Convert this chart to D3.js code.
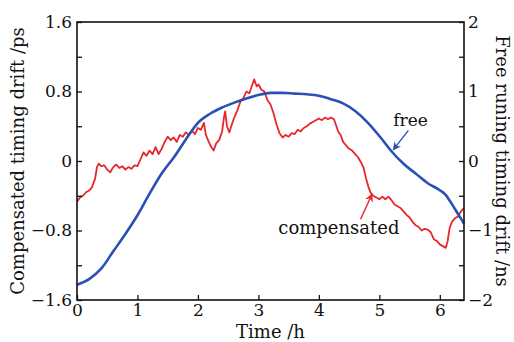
<!DOCTYPE html>
<html>
<head>
<meta charset="utf-8">
<script src="https://cdn.jsdelivr.net/npm/d3@7"></script>
<style>
  body { margin: 0; background: #fff; }
  svg text { font-family: "DejaVu Serif", "Liberation Serif", serif; fill: #111; }
</style>
</head>
<body>
<svg id="canvas" width="514" height="342"></svg>
<script>
// compensated timing drift (ps), left axis
const compT = [0, 0.05, 0.1, 0.15, 0.2, 0.25, 0.3, 0.33, 0.36, 0.4, 0.45, 0.5, 0.55, 0.6, 0.65, 0.7, 0.75, 0.8, 0.85, 0.9, 0.95,
  1.0, 1.05, 1.1, 1.15, 1.2, 1.25, 1.3, 1.35, 1.4, 1.45, 1.5, 1.55, 1.6, 1.65, 1.7, 1.75, 1.8, 1.85, 1.9, 1.95,
  2.0, 2.05, 2.1, 2.13, 2.18, 2.22, 2.26, 2.3, 2.35, 2.4, 2.43, 2.45, 2.48, 2.52, 2.56, 2.6, 2.65, 2.7, 2.75, 2.8, 2.85, 2.9, 2.93, 2.97,
  3.0, 3.05, 3.1, 3.15, 3.2, 3.25, 3.3, 3.35, 3.4, 3.45, 3.5, 3.55, 3.6, 3.65, 3.7, 3.75, 3.8, 3.85, 3.9, 3.95,
  4.0, 4.05, 4.1, 4.15, 4.2, 4.25, 4.28, 4.32, 4.36, 4.4, 4.45, 4.5, 4.55, 4.6, 4.65, 4.7, 4.74, 4.78, 4.82, 4.86, 4.9, 4.95,
  5.0, 5.05, 5.1, 5.15, 5.2, 5.25, 5.3, 5.35, 5.4, 5.45, 5.5, 5.55, 5.6, 5.65, 5.7, 5.75, 5.8, 5.85, 5.9, 5.95,
  6.0, 6.05, 6.1, 6.13, 6.16, 6.2, 6.25, 6.3, 6.35, 6.4];
const compV = [-0.47, -0.42, -0.40, -0.36, -0.34, -0.30, -0.20, -0.07, -0.03, -0.06, -0.05, -0.10, -0.13, -0.07, -0.04, -0.08, -0.06, -0.10, -0.07, -0.09, -0.05,
  -0.06, 0.02, 0.10, 0.06, 0.12, 0.08, 0.16, 0.08, 0.14, 0.22, 0.28, 0.24, 0.27, 0.22, 0.30, 0.28, 0.33, 0.30, 0.35, 0.31,
  0.38, 0.36, 0.44, 0.30, 0.22, 0.16, 0.12, 0.20, 0.24, 0.34, 0.50, 0.57, 0.40, 0.33, 0.42, 0.50, 0.58, 0.68, 0.72, 0.80, 0.78, 0.88, 0.94, 0.86,
  0.88, 0.82, 0.80, 0.70, 0.65, 0.55, 0.42, 0.32, 0.27, 0.30, 0.28, 0.32, 0.31, 0.36, 0.34, 0.38, 0.40, 0.43, 0.45, 0.47,
  0.49, 0.47, 0.50, 0.48, 0.50, 0.48, 0.42, 0.34, 0.30, 0.22, 0.18, 0.14, 0.12, 0.08, 0.04, -0.02, -0.08, -0.20, -0.30, -0.37, -0.40, -0.42,
  -0.44, -0.41, -0.44, -0.41, -0.45, -0.50, -0.52, -0.54, -0.58, -0.62, -0.65, -0.70, -0.74, -0.76, -0.80, -0.78, -0.79, -0.82, -0.90, -0.92,
  -0.96, -0.98, -1.00, -0.92, -0.78, -0.70, -0.66, -0.64, -0.58, -0.54];

// free running timing drift (ns), right axis
const freeT = [0, 0.2, 0.4, 0.6, 0.8, 1.0, 1.2, 1.4, 1.6, 1.8, 2.0, 2.2, 2.4, 2.6, 2.8, 3.0, 3.2, 3.4, 3.6, 3.8,
  4.0, 4.2, 4.4, 4.6, 4.8, 5.0, 5.2, 5.4, 5.6, 5.8, 6.0, 6.1, 6.2, 6.3, 6.4];
const freeV = [-1.78, -1.70, -1.55, -1.30, -1.05, -0.78, -0.47, -0.18, 0.05, 0.31, 0.55, 0.68, 0.77, 0.84, 0.90, 0.95, 0.98, 0.98, 0.97, 0.96,
  0.94, 0.89, 0.83, 0.72, 0.56, 0.36, 0.14, -0.04, -0.18, -0.32, -0.42, -0.49, -0.62, -0.76, -0.90];

const xTicks = [0, 1, 2, 3, 4, 5, 6];
const leftTicks = [-1.6, -1.2, -0.8, -0.4, 0, 0.4, 0.8, 1.2, 1.6];
const leftLabels = ["\u22121.6", "", "\u22120.8", "", "0", "", "0.8", "", "1.6"];
const rightTicks = [-2, -1.5, -1, -0.5, 0, 0.5, 1, 1.5, 2];
const rightLabels = ["\u22122", "", "\u22121", "", "0", "", "1", "", "2"];

const m = { left: 77, top: 22, right: 464, bottom: 300 };
const svg = d3.select('#canvas');

const x = d3.scaleLinear().domain([0, 6.4]).range([m.left, m.right]);
const yL = d3.scaleLinear().domain([-1.6, 1.6]).range([m.bottom, m.top]);
const yR = d3.scaleLinear().domain([-2, 2]).range([m.bottom, m.top]);

// data lines
const comp = compT.map((t, i) => [t, compV[i]]);
const free = freeT.map((t, i) => [t, freeV[i]]);

svg.append("path")
  .datum(comp)
  .attr("fill", "none")
  .attr("stroke", "#e8262a")
  .attr("stroke-width", 1.8)
  .attr("stroke-linejoin", "round")
  .attr("d", d3.line().x(d => x(d[0])).y(d => yL(d[1])));

svg.append("path")
  .datum(free)
  .attr("fill", "none")
  .attr("stroke", "#2a50b8")
  .attr("stroke-width", 2.6)
  .attr("d", d3.line().curve(d3.curveMonotoneX).x(d => x(d[0])).y(d => yR(d[1])));

// frame
svg.append("rect")
  .attr("x", m.left).attr("y", m.top)
  .attr("width", m.right - m.left).attr("height", m.bottom - m.top)
  .attr("fill", "none").attr("stroke", "#111").attr("stroke-width", 1.6);

// axes, ticks pointing in
const styleAxis = g => {
  g.select(".domain").remove();
  g.selectAll(".tick line").attr("stroke", "#111").attr("stroke-width", 1.3);
  g.selectAll("text").attr("font-size", 17).attr("fill", "#111")
    .style("font-family", '"DejaVu Serif", serif');
};

svg.append("g")
  .attr("transform", `translate(0,${m.bottom})`)
  .call(d3.axisBottom(x).tickValues(xTicks).tickFormat(d3.format("d")).tickSizeInner(-5).tickSizeOuter(0).tickPadding(4))
  .call(styleAxis);

svg.append("g")
  .attr("transform", `translate(${m.left},0)`)
  .call(d3.axisLeft(yL).tickValues(leftTicks).tickFormat((d, i) => leftLabels[i]).tickSizeInner(-5).tickSizeOuter(0).tickPadding(5))
  .call(styleAxis);

svg.append("g")
  .attr("transform", `translate(${m.right},0)`)
  .call(d3.axisRight(yR).tickValues(rightTicks).tickFormat((d, i) => rightLabels[i]).tickSizeInner(-5).tickSizeOuter(0).tickPadding(4))
  .call(styleAxis);

// axis titles
svg.append("text")
  .attr("x", (m.left + m.right) / 2).attr("y", 338)
  .attr("text-anchor", "middle").attr("font-size", 18)
  .text("Time /h");

svg.append("text")
  .attr("transform", `translate(24,${(m.top + m.bottom) / 2}) rotate(-90)`)
  .attr("text-anchor", "middle").attr("font-size", 18)
  .text("Compensated timing drift /ps");

svg.append("text")
  .attr("transform", `translate(496,${(m.top + m.bottom) / 2}) rotate(90)`)
  .attr("text-anchor", "middle").attr("font-size", 18)
  .text("Free runing timing drift /ns");

// annotations with arrows
const defs = svg.append("defs");
[["blueHead", "#2a50b8"], ["redHead", "#e8262a"]].forEach(([id, c]) => {
  defs.append("marker")
    .attr("id", id).attr("viewBox", "0 0 10 10")
    .attr("refX", 9).attr("refY", 5)
    .attr("markerWidth", 6).attr("markerHeight", 6)
    .attr("orient", "auto")
    .append("path").attr("d", "M0,0 L10,5 L0,10 L3,5 Z").attr("fill", c);
});

svg.append("line")
  .attr("x1", x(5.48)).attr("y1", yR(0.44))
  .attr("x2", x(5.23)).attr("y2", yR(0.16))
  .attr("stroke", "#2a50b8").attr("stroke-width", 1.4)
  .attr("marker-end", "url(#blueHead)");

svg.append("line")
  .attr("x1", x(4.69)).attr("y1", yL(-0.67))
  .attr("x2", x(4.88)).attr("y2", yL(-0.38))
  .attr("stroke", "#e8262a").attr("stroke-width", 1.4)
  .attr("marker-end", "url(#redHead)");

svg.append("text")
  .attr("x", x(5.23)).attr("y", 126)
  .attr("font-size", 17)
  .text("free");

svg.append("text")
  .attr("x", x(3.33)).attr("y", 234)
  .attr("font-size", 18)
  .text("compensated");
</script>
</body>
</html>
